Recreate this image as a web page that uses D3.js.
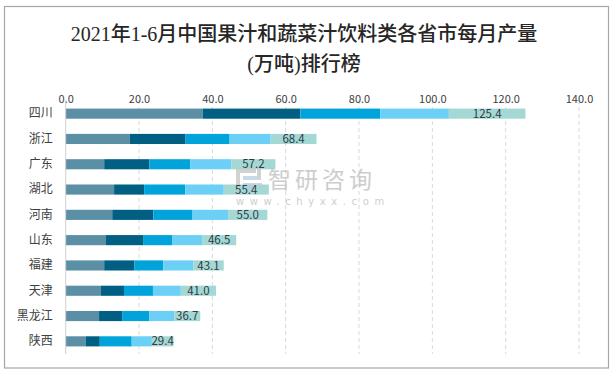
<!DOCTYPE html>
<html>
<head>
<meta charset="utf-8">
<script src="https://cdn.jsdelivr.net/npm/d3@7"></script>
<style>
  html, body { margin: 0; padding: 0; background: #fff; }
  svg { display: block; }
</style>
</head>
<body>
<svg id="chart" width="613" height="374"></svg>
<script>
// ---- data ----
const titleLines = ["2021年1-6月中国果汁和蔬菜汁饮料类各省市每月产量", "(万吨)排行榜"];
const categories = ["四川", "浙江", "广东", "湖北", "河南", "山东", "福建", "天津", "黑龙江", "陕西"];
const seriesNames = ["1-2月", "3月", "4月", "5月", "6月"];
const s1 = [37.4, 17.5, 10.5, 13.2, 12.7, 11.0, 10.5, 9.6, 9.1, 5.5];
const s2 = [26.6, 15.2, 12.3, 8.2, 11.2, 10.1, 8.2, 6.3, 6.3, 3.8];
const s3 = [21.8, 12.0, 11.2, 11.2, 10.7, 7.9, 7.9, 7.9, 7.4, 8.7];
const s4 = [18.7, 11.2, 11.2, 10.5, 9.7, 8.2, 8.2, 7.6, 6.8, 5.5];
const s5 = [20.9, 12.5, 12.0, 12.3, 10.7, 9.3, 8.3, 9.6, 7.1, 5.9];
const totals = [125.4, 68.4, 57.2, 55.4, 55.0, 46.5, 43.1, 41.0, 36.7, 29.4];
const xTicks = [0, 20, 40, 60, 80, 100, 120, 140];
const colors = ["#5b8fa6", "#005f83", "#00a3da", "#6bcff6", "#a3d8d5"];

// ---- build ----
const svg = d3.select("#chart");
const seriesVals = [s1, s2, s3, s4, s5];
const rows = categories.map((c, i) => {
  const o = { cat: c, total: totals[i] };
  seriesNames.forEach((s, k) => o[s] = seriesVals[k][i]);
  return o;
});
const stacked = d3.stack().keys(seriesNames)(rows);

const x = d3.scaleLinear().domain([0, 140]).range([65.7, 579]);
const y = d3.scaleBand().domain(categories).range([101, 354]).paddingInner(0.6).paddingOuter(0.3);

// outer border
svg.append("rect").attr("x", 4.5).attr("y", 6.5).attr("width", 604).attr("height", 361.5)
  .attr("fill", "none").attr("stroke", "#a6a6a6").attr("stroke-width", 1.2);

// title
svg.append("g").selectAll("text").data(titleLines).join("text")
  .attr("x", 304).attr("y", (d, i) => 41 + i * 30)
  .attr("text-anchor", "middle")
  .attr("font-family", "'Liberation Serif', 'Noto Sans CJK SC', serif")
  .attr("font-size", 20).attr("font-weight", 500)
  .attr("fill", "#262626")
  .text(d => d);

// gridlines
svg.append("g").selectAll("line").data(xTicks.slice(1)).join("line")
  .attr("x1", d => x(d)).attr("x2", d => x(d))
  .attr("y1", 100).attr("y2", 354)
  .attr("stroke", "#d9d9d9").attr("stroke-dasharray", "4,3").attr("stroke-width", 1);

// top axis labels
const xAxis = svg.append("g").attr("transform", "translate(0,102.5)")
  .call(d3.axisTop(x).tickValues(xTicks).tickFormat(d3.format(".1f")).tickSize(0).tickPadding(0));
xAxis.select(".domain").remove();
xAxis.selectAll("text").attr("font-family", "'Noto Sans CJK SC', sans-serif").attr("font-size", 11).attr("fill", "#404040");

// bars
svg.append("g").selectAll("g").data(stacked).join("g")
  .attr("fill", (d, i) => colors[i])
  .selectAll("rect").data(d => d).join("rect")
  .attr("x", d => x(d[0]))
  .attr("y", d => y(d.data.cat))
  .attr("width", d => x(d[1]) - x(d[0]))
  .attr("height", y.bandwidth());

// watermark (semi-transparent, over the bars as in the reference)
const wm = svg.append("g").attr("opacity", 0.75);
wm.append("rect").attr("x", 236).attr("y", 169).attr("width", 4).attr("height", 18).attr("fill", "#c4c4c4");
wm.append("rect").attr("x", 236).attr("y", 169).attr("width", 20).attr("height", 4).attr("fill", "#c4c4c4");
wm.append("rect").attr("x", 243).attr("y", 176).attr("width", 18).attr("height", 4).attr("fill", "#b9cde0");
wm.append("rect").attr("x", 243).attr("y", 183).attr("width", 19).attr("height", 4).attr("fill", "#b9cde0");
wm.append("rect").attr("x", 257).attr("y", 169).attr("width", 4).attr("height", 9).attr("fill", "#c4c4c4");
wm.append("text").attr("x", 268).attr("y", 188).attr("font-family", "'Noto Sans CJK SC', sans-serif")
  .attr("fill", "#bdbdbd").attr("font-size", 23).attr("letter-spacing", 4).text("智研咨询");
wm.append("text").attr("x", 236).attr("y", 205).attr("font-family", "'DejaVu Sans', sans-serif")
  .attr("fill", "#bdbdbd").attr("font-size", 10).attr("letter-spacing", 5.6).text("www.chyxx.com");

// data labels (total, placed on last segment)
const last = stacked[stacked.length - 1];
svg.append("g").selectAll("text").data(last).join("text")
  .attr("x", d => (x(d[0]) + x(d[1])) / 2)
  .attr("y", d => y(d.data.cat) + y.bandwidth() / 2)
  .attr("dy", "0.36em")
  .attr("text-anchor", "middle")
  .attr("font-family", "'Noto Sans CJK SC', sans-serif")
  .attr("font-size", 11.5).attr("fill", "#333a44")
  .text(d => d3.format(".1f")(d.data.total));

// y axis
const yAxis = svg.append("g").attr("transform", "translate(65.7,0)")
  .call(d3.axisLeft(y).tickSize(0).tickPadding(13));
yAxis.select(".domain").attr("stroke", "#d0d0d0").attr("d", "M0,100V354");
yAxis.selectAll("text").attr("font-family", "'Noto Sans CJK SC', sans-serif").attr("font-size", 12).attr("fill", "#404040");
</script>
</body>
</html>
